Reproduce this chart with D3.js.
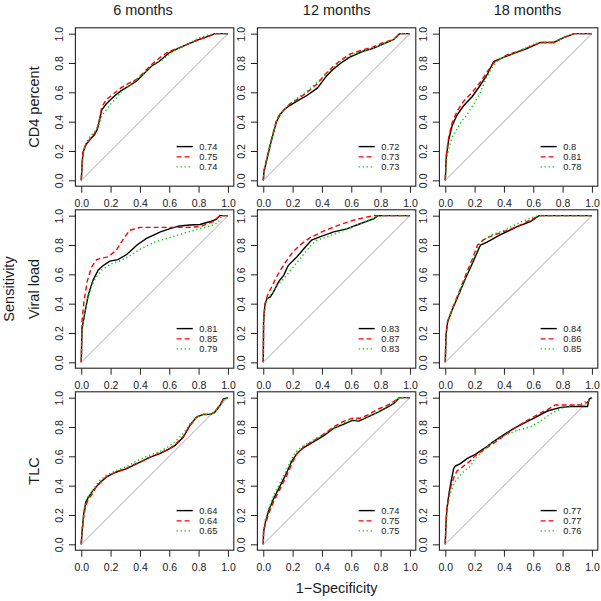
<!DOCTYPE html>
<html>
<head>
<meta charset="utf-8">
<script src="https://cdn.jsdelivr.net/npm/d3@7"></script>
<style>
  html, body { margin: 0; padding: 0; background: #fff; }
  svg { display: block; font-family: "Liberation Sans", Arial, Helvetica, sans-serif; }
</style>
</head>
<body>
<svg id="chart" width="601" height="601"></svg>
<script>
// ---------------- DATA ----------------
const colTitles = ["6 months", "12 months", "18 months"];
const rowTitles = ["CD4 percent", "Viral load", "TLC"];
const tickValues = [0, 0.2, 0.4, 0.6, 0.8, 1.0];
const seriesColors = ["#000000", "#ff0000", "#00cd00"];

// AUC legend labels [row][col][series]
const aucCD4 = [["0.74", "0.75", "0.74"], ["0.72", "0.73", "0.73"], ["0.8", "0.81", "0.78"]];
const aucVL  = [["0.81", "0.85", "0.79"], ["0.83", "0.87", "0.83"], ["0.84", "0.86", "0.85"]];
const aucTLC = [["0.64", "0.64", "0.65"], ["0.74", "0.75", "0.75"], ["0.77", "0.77", "0.76"]];

// ROC curves: [1-specificity, sensitivity], series order: black, red, green
const cd4_6m = [
  [[0,0],[0.005,0.1],[0.012,0.19],[0.03,0.24],[0.06,0.28],[0.09,0.31],[0.11,0.35],[0.14,0.48],[0.17,0.52],[0.22,0.57],[0.27,0.61],[0.32,0.64],[0.38,0.68],[0.43,0.73],[0.48,0.78],[0.53,0.81],[0.6,0.87],[0.66,0.9],[0.73,0.93],[0.8,0.96],[0.86,0.98],[0.91,1],[1,1]],
  [[0,0],[0.005,0.1],[0.012,0.2],[0.03,0.24],[0.06,0.28],[0.09,0.32],[0.115,0.37],[0.14,0.5],[0.17,0.55],[0.22,0.59],[0.27,0.63],[0.32,0.66],[0.38,0.69],[0.43,0.74],[0.48,0.79],[0.54,0.84],[0.6,0.88],[0.66,0.9],[0.73,0.93],[0.8,0.96],[0.86,0.98],[0.92,1],[1,1]],
  [[0,0],[0.005,0.1],[0.012,0.18],[0.03,0.25],[0.06,0.3],[0.09,0.33],[0.12,0.38],[0.14,0.44],[0.17,0.48],[0.2,0.52],[0.23,0.55],[0.27,0.6],[0.32,0.64],[0.38,0.69],[0.43,0.73],[0.48,0.78],[0.55,0.82],[0.6,0.86],[0.66,0.9],[0.73,0.93],[0.8,0.97],[0.86,0.99],[0.92,1],[1,1]]
];
const cd4_12m = [
  [[0,0],[0.005,0.06],[0.05,0.25],[0.09,0.4],[0.115,0.45],[0.14,0.48],[0.18,0.51],[0.23,0.54],[0.3,0.58],[0.37,0.63],[0.43,0.71],[0.48,0.76],[0.53,0.8],[0.59,0.84],[0.68,0.88],[0.75,0.9],[0.82,0.93],[0.89,0.96],[0.91,0.98],[0.93,1],[1,1]],
  [[0,0],[0.005,0.07],[0.05,0.26],[0.09,0.41],[0.115,0.455],[0.14,0.48],[0.18,0.52],[0.23,0.55],[0.3,0.6],[0.37,0.66],[0.43,0.73],[0.48,0.78],[0.53,0.82],[0.59,0.86],[0.68,0.89],[0.75,0.91],[0.82,0.94],[0.89,0.96],[0.91,0.98],[0.93,1],[1,1]],
  [[0,0],[0.005,0.06],[0.05,0.25],[0.09,0.4],[0.115,0.45],[0.14,0.48],[0.18,0.52],[0.23,0.56],[0.3,0.61],[0.37,0.67],[0.43,0.73],[0.48,0.77],[0.53,0.81],[0.59,0.85],[0.68,0.88],[0.75,0.9],[0.82,0.93],[0.89,0.96],[0.92,0.99],[0.94,1],[1,1]]
];
const cd4_18m = [
  [[0,0],[0.007,0.16],[0.023,0.275],[0.046,0.37],[0.08,0.445],[0.126,0.51],[0.183,0.57],[0.24,0.65],[0.285,0.72],[0.33,0.81],[0.377,0.83],[0.468,0.866],[0.56,0.9],[0.65,0.94],[0.7,0.94],[0.74,0.94],[0.81,0.975],[0.88,1],[1,1]],
  [[0,0],[0.007,0.17],[0.023,0.29],[0.046,0.39],[0.08,0.47],[0.126,0.54],[0.183,0.6],[0.24,0.67],[0.285,0.74],[0.33,0.8],[0.377,0.83],[0.43,0.86],[0.5,0.88],[0.56,0.905],[0.65,0.94],[0.74,0.94],[0.81,0.975],[0.88,1],[1,1]],
  [[0,0],[0.01,0.15],[0.03,0.24],[0.05,0.3],[0.08,0.35],[0.11,0.4],[0.15,0.45],[0.2,0.53],[0.24,0.6],[0.28,0.7],[0.32,0.77],[0.36,0.82],[0.45,0.86],[0.55,0.905],[0.62,0.935],[0.7,0.94],[0.75,0.945],[0.81,0.975],[0.88,1],[1,1]]
];
const vl_6m = [
  [[0,0],[0.005,0.23],[0.025,0.34],[0.048,0.46],[0.08,0.56],[0.116,0.63],[0.15,0.66],[0.195,0.69],[0.25,0.7],[0.31,0.735],[0.38,0.8],[0.445,0.845],[0.54,0.89],[0.6,0.91],[0.67,0.93],[0.74,0.936],[0.81,0.94],[0.88,0.96],[0.92,0.975],[0.945,1],[1,1]],
  [[0,0],[0.005,0.28],[0.018,0.41],[0.04,0.55],[0.07,0.65],[0.105,0.7],[0.14,0.71],[0.185,0.72],[0.24,0.765],[0.29,0.845],[0.33,0.9],[0.4,0.92],[0.49,0.92],[0.63,0.92],[0.72,0.92],[0.81,0.925],[0.9,0.96],[0.945,1],[1,1]],
  [[0,0],[0.005,0.2],[0.02,0.32],[0.045,0.44],[0.07,0.52],[0.1,0.58],[0.14,0.63],[0.2,0.67],[0.26,0.69],[0.32,0.72],[0.4,0.77],[0.5,0.82],[0.6,0.85],[0.7,0.88],[0.8,0.91],[0.88,0.93],[0.93,0.95],[0.96,1],[1,1]]
];
const vl_12m = [
  [[0,0],[0.002,0.28],[0.011,0.39],[0.025,0.435],[0.048,0.446],[0.07,0.48],[0.105,0.55],[0.14,0.595],[0.17,0.66],[0.23,0.72],[0.29,0.79],[0.33,0.834],[0.39,0.857],[0.48,0.89],[0.57,0.91],[0.66,0.945],[0.755,0.98],[0.78,1],[1,1]],
  [[0,0],[0.003,0.3],[0.012,0.4],[0.03,0.46],[0.06,0.52],[0.1,0.6],[0.15,0.68],[0.2,0.75],[0.25,0.8],[0.32,0.85],[0.4,0.89],[0.5,0.93],[0.6,0.965],[0.7,0.99],[0.76,1],[1,1]],
  [[0,0],[0.003,0.28],[0.012,0.38],[0.03,0.44],[0.07,0.48],[0.1,0.53],[0.14,0.57],[0.18,0.62],[0.22,0.67],[0.27,0.73],[0.32,0.79],[0.36,0.83],[0.42,0.85],[0.5,0.88],[0.57,0.91],[0.65,0.94],[0.72,0.97],[0.77,0.99],[0.82,1],[1,1]]
];
const vl_18m = [
  [[0,0],[0.005,0.185],[0.016,0.275],[0.046,0.355],[0.09,0.458],[0.137,0.57],[0.183,0.67],[0.24,0.8],[0.285,0.82],[0.377,0.87],[0.49,0.925],[0.58,0.96],[0.64,1],[1,1]],
  [[0,0],[0.005,0.2],[0.016,0.28],[0.046,0.36],[0.09,0.47],[0.137,0.59],[0.183,0.7],[0.22,0.8],[0.26,0.835],[0.3,0.855],[0.38,0.885],[0.45,0.91],[0.52,0.94],[0.6,0.98],[0.64,1],[1,1]],
  [[0,0],[0.005,0.18],[0.016,0.27],[0.046,0.36],[0.09,0.46],[0.137,0.58],[0.183,0.69],[0.23,0.8],[0.27,0.84],[0.32,0.87],[0.4,0.9],[0.46,0.93],[0.52,0.96],[0.6,0.99],[0.64,1],[1,1]]
];
const tlc_6m = [
  [[0,0],[0.005,0.084],[0.018,0.22],[0.032,0.29],[0.048,0.32],[0.082,0.37],[0.127,0.42],[0.173,0.46],[0.23,0.49],[0.31,0.516],[0.4,0.56],[0.47,0.595],[0.536,0.618],[0.593,0.648],[0.64,0.675],[0.695,0.73],[0.74,0.81],[0.786,0.868],[0.832,0.886],[0.877,0.886],[0.91,0.9],[0.945,0.945],[0.968,0.99],[1,1]],
  [[0,0],[0.005,0.08],[0.018,0.2],[0.032,0.27],[0.05,0.31],[0.08,0.35],[0.1,0.39],[0.13,0.42],[0.17,0.46],[0.23,0.49],[0.31,0.52],[0.36,0.545],[0.4,0.56],[0.47,0.595],[0.54,0.625],[0.6,0.65],[0.64,0.68],[0.7,0.74],[0.74,0.81],[0.79,0.87],[0.83,0.885],[0.88,0.885],[0.91,0.9],[0.95,0.96],[0.98,1],[1,1]],
  [[0,0],[0.005,0.1],[0.018,0.23],[0.032,0.3],[0.05,0.33],[0.08,0.37],[0.12,0.43],[0.17,0.47],[0.23,0.5],[0.31,0.53],[0.4,0.58],[0.47,0.61],[0.54,0.635],[0.6,0.67],[0.64,0.7],[0.7,0.76],[0.74,0.82],[0.79,0.87],[0.83,0.885],[0.88,0.885],[0.91,0.9],[0.95,0.95],[0.97,0.99],[1,1]]
];
const tlc_12m = [
  [[0,0],[0.002,0.084],[0.014,0.15],[0.037,0.23],[0.07,0.31],[0.116,0.4],[0.16,0.49],[0.196,0.57],[0.23,0.62],[0.276,0.66],[0.345,0.7],[0.41,0.74],[0.48,0.79],[0.55,0.82],[0.607,0.845],[0.653,0.84],[0.71,0.868],[0.78,0.9],[0.847,0.936],[0.89,0.96],[0.927,1],[1,1]],
  [[0,0],[0.002,0.08],[0.014,0.14],[0.037,0.21],[0.07,0.29],[0.116,0.38],[0.16,0.47],[0.2,0.56],[0.23,0.62],[0.28,0.67],[0.35,0.71],[0.41,0.75],[0.48,0.8],[0.55,0.84],[0.61,0.86],[0.66,0.86],[0.71,0.88],[0.78,0.92],[0.85,0.95],[0.9,0.98],[0.93,1],[1,1]],
  [[0,0],[0.002,0.1],[0.014,0.17],[0.037,0.24],[0.07,0.33],[0.12,0.43],[0.16,0.51],[0.19,0.58],[0.22,0.63],[0.27,0.67],[0.34,0.71],[0.41,0.75],[0.48,0.79],[0.55,0.83],[0.61,0.85],[0.66,0.85],[0.71,0.87],[0.78,0.9],[0.85,0.94],[0.9,0.97],[0.93,1],[1,1]]
];
const tlc_18m = [
  [[0,0],[0.005,0.15],[0.011,0.24],[0.023,0.33],[0.039,0.425],[0.057,0.516],[0.068,0.534],[0.103,0.55],[0.148,0.584],[0.205,0.614],[0.263,0.652],[0.331,0.702],[0.4,0.748],[0.468,0.79],[0.537,0.827],[0.605,0.86],[0.696,0.909],[0.788,0.934],[0.856,0.94],[0.925,0.94],[0.97,0.94],[0.98,0.99],[1,1]],
  [[0,0],[0.005,0.15],[0.012,0.25],[0.025,0.33],[0.04,0.4],[0.06,0.46],[0.08,0.5],[0.12,0.53],[0.16,0.56],[0.2,0.6],[0.27,0.65],[0.33,0.69],[0.4,0.74],[0.47,0.79],[0.55,0.84],[0.62,0.88],[0.7,0.92],[0.75,0.95],[0.85,0.95],[0.93,0.95],[0.97,0.97],[1,1]],
  [[0,0],[0.005,0.13],[0.015,0.25],[0.03,0.33],[0.05,0.39],[0.07,0.43],[0.1,0.47],[0.13,0.5],[0.17,0.53],[0.2,0.58],[0.25,0.63],[0.3,0.68],[0.35,0.71],[0.42,0.75],[0.5,0.78],[0.58,0.8],[0.65,0.84],[0.72,0.89],[0.8,0.93],[0.87,0.95],[0.93,0.96],[0.97,0.98],[1,1]]
];

const panelCurves = [
  [cd4_6m, cd4_12m, cd4_18m],
  [vl_6m, vl_12m, vl_18m],
  [tlc_6m, tlc_12m, tlc_18m]
];
const panelAuc = [aucCD4, aucVL, aucTLC];

// ---------------- LAYOUT / STYLE ----------------
const svg = d3.select("#chart");
const left0 = 75.4, top0 = 27.8, stepX = 182, stepY = 182, size = 158.4;
const textColor = "#1a1a1a";
const dashes = [null, "5,3", "1.3,2.7"];

const line = d3.line();

for (let r = 0; r < 3; r++) {
  for (let c = 0; c < 3; c++) {
    const L = left0 + c * stepX, T = top0 + r * stepY;
    const g = svg.append("g").attr("transform", `translate(${L},${T})`);
    const x = d3.scaleLinear().domain([-0.04, 1.04]).range([0, size]);
    const y = d3.scaleLinear().domain([-0.04, 1.04]).range([size, 0]);
    line.x(d => x(d[0])).y(d => y(d[1]));

    // diagonal reference
    g.append("path")
      .attr("d", line([[0, 0], [1, 1]]))
      .attr("fill", "none").attr("stroke", "#c4c4c4").attr("stroke-width", 1.1);

    // curves (draw green, red, then black on top? keep order black, red, green)
    panelCurves[r][c].forEach((pts, i) => {
      g.append("path")
        .attr("d", line(pts))
        .attr("fill", "none")
        .attr("stroke", seriesColors[i])
        .attr("stroke-width", 1.4)
        .attr("stroke-dasharray", dashes[i]);
    });

    // box
    g.append("rect").attr("x", 0).attr("y", 0).attr("width", size).attr("height", size)
      .attr("fill", "none").attr("stroke", "#222").attr("stroke-width", 1.1);

    // bottom axis
    const ax = g.append("g").attr("transform", `translate(0,${size})`)
      .call(d3.axisBottom(x).tickValues(tickValues).tickFormat(d3.format(".1f")).tickSize(6.5).tickPadding(6.8));
    ax.select(".domain").remove();
    ax.selectAll("line").attr("stroke", "#222");
    ax.selectAll("text").attr("fill", textColor).style("font-size", "10.5px")
      .style("font-family", '"Liberation Sans", Arial, sans-serif');

    // left axis with rotated labels
    const ay = g.append("g")
      .call(d3.axisLeft(y).tickValues(tickValues).tickFormat(d3.format(".1f")).tickSize(6.5));
    ay.select(".domain").remove();
    ay.selectAll("line").attr("stroke", "#222");
    ay.selectAll("text")
      .attr("x", null).attr("dy", null).attr("y", null)
      .attr("text-anchor", "middle")
      .attr("transform", "translate(-12.5,0) rotate(-90)")
      .attr("fill", textColor).style("font-size", "10.5px")
      .style("font-family", '"Liberation Sans", Arial, sans-serif');

    // legend
    const leg = g.append("g");
    const legY = [0.23, 0.16, 0.092];
    panelAuc[r][c].forEach((lab, i) => {
      leg.append("line")
        .attr("x1", x(0.65)).attr("x2", x(0.76))
        .attr("y1", y(legY[i])).attr("y2", y(legY[i]))
        .attr("stroke", seriesColors[i]).attr("stroke-width", 1.4)
        .attr("stroke-dasharray", dashes[i]);
      leg.append("text")
        .attr("x", x(0.805)).attr("y", y(legY[i]))
        .attr("dy", "0.35em")
        .attr("fill", textColor).style("font-size", "9.3px")
        .text(lab);
    });
  }
}

// column titles
const colCenters = [143, 336.7, 527.5];
colTitles.forEach((t, i) => {
  svg.append("text").attr("x", colCenters[i]).attr("y", 15)
    .attr("text-anchor", "middle").attr("fill", textColor)
    .style("font-size", "14.5px").text(t);
});

// row titles
rowTitles.forEach((t, i) => {
  const cy = top0 + i * stepY + size / 2;
  svg.append("text").attr("transform", `translate(39,${cy}) rotate(-90)`)
    .attr("text-anchor", "middle").attr("fill", textColor)
    .style("font-size", "14.5px").text(t);
});

// outer axis titles
svg.append("text").attr("transform", `translate(13.5,${top0 + stepY + size / 2}) rotate(-90)`)
  .attr("text-anchor", "middle").attr("fill", textColor)
  .style("font-size", "14.5px").text("Sensitivity");
svg.append("text").attr("x", left0 + stepX + size / 2).attr("y", 593)
  .attr("text-anchor", "middle").attr("fill", textColor)
  .style("font-size", "14.5px").text("1\u2212Specificity");
</script>
</body>
</html>
